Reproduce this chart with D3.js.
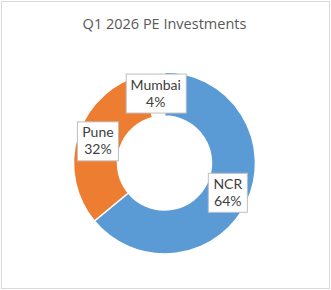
<!DOCTYPE html>
<html>
<head>
    <script src="https://d3js.org/d3.v7.min.js"></script>
    <title>Q1 2026 PE Investments</title>
    <style>
        body { margin: 0; background: #fff; }
        svg text { font-family: "Open Sans", sans-serif; }
        svg .lbl text { font-family: Lato, "Open Sans", sans-serif; }
    </style>
</head>
<body>
    <div id="chart"></div>
    <script>
        // Data
        var cities = ["NCR", "Pune", "Mumbai"];
        var shares = [64, 32, 4];
        // the Mumbai sliver is not visible in the reference, it reads as white
        var colors = ["#5b9bd5", "#ed7d31", "#ffffff"];
        var title = "Q1 2026 PE Investments";

        var width = 331, height = 290;
        var cx = 164.5, cy = 163;
        var outerR = 91, innerR = 47;

        var svg = d3.select('#chart').append('svg')
            .attr('width', width)
            .attr('height', height);

        // outer frame
        svg.append('rect')
            .attr('x', 1.5).attr('y', 1.5)
            .attr('width', width - 3).attr('height', height - 3)
            .attr('fill', '#fff')
            .attr('stroke', '#d9d9d9');

        svg.append('text')
            .attr('x', cx)
            .attr('y', 29)
            .attr('text-anchor', 'middle')
            .attr('font-size', '14.5px')
            .attr('fill', '#595959')
            .text(title);

        var data = cities.map(function(c, i) { return {city: c, value: shares[i], color: colors[i]}; });

        var pie = d3.pie().sort(null).value(function(d) { return d.value; })(data);
        var arc = d3.arc().innerRadius(innerR).outerRadius(outerR);
        var labelArc = d3.arc().innerRadius(innerR + 1).outerRadius(outerR + 1);

        var g = svg.append('g').attr('transform', 'translate(' + cx + ',' + cy + ')');

        g.selectAll('.slice')
            .data(pie)
            .enter().append('path')
            .attr('class', 'slice')
            .attr('d', arc)
            .attr('fill', function(d) { return d.data.color; })
            .attr('stroke', '#fff')
            .attr('stroke-width', 1.5);

        // data labels in white boxes, two lines each
        var labels = g.selectAll('.lbl')
            .data(pie)
            .enter().append('g')
            .attr('class', 'lbl')
            .attr('transform', function(d) { return 'translate(' + labelArc.centroid(d) + ')'; });

        labels.append('rect').attr('class', 'box');
        labels.append('text')
            .attr('class', 'name')
            .attr('text-anchor', 'middle')
            .attr('y', -4)
            .attr('font-size', '14px')
            .attr('fill', '#404040')
            .text(function(d) { return d.data.city; });
        labels.append('text')
            .attr('class', 'pct')
            .attr('text-anchor', 'middle')
            .attr('y', 13)
            .attr('font-size', '14px')
            .attr('fill', '#404040')
            .text(function(d) { return d.data.value + '%'; });

        labels.each(function() {
            var lg = d3.select(this);
            var w = Math.max(lg.select('.name').node().getBBox().width,
                             lg.select('.pct').node().getBBox().width);
            lg.select('.box')
                .attr('x', -Math.round(w / 2 + 5) + 0.5)
                .attr('y', -19.5)
                .attr('width', Math.round(w + 10))
                .attr('height', 39)
                .attr('fill', '#fff')
                .attr('stroke', '#bfbfbf');
        });
    </script>
</body>
</html>
